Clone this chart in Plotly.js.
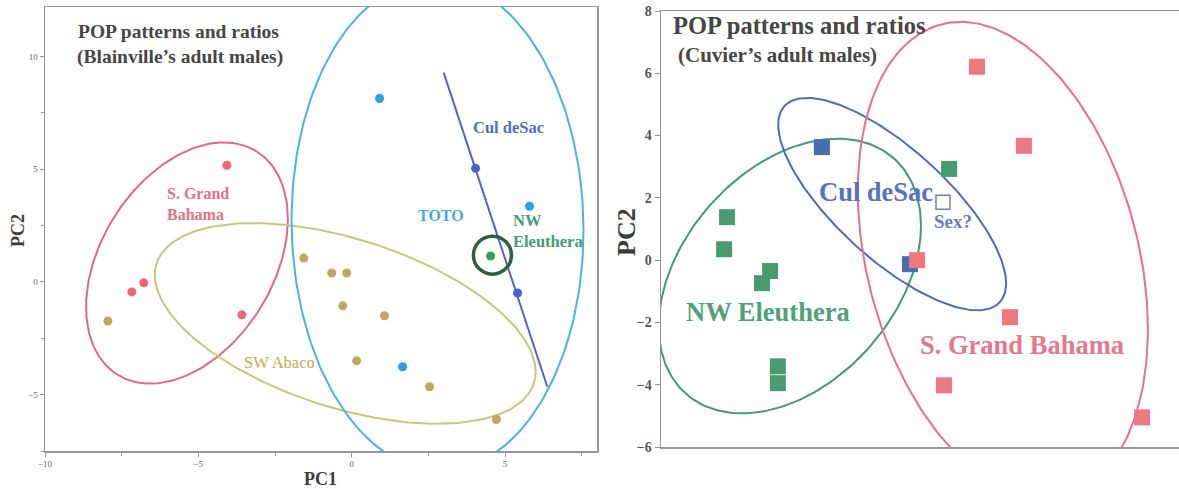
<!DOCTYPE html>
<html>
<head>
<meta charset="utf-8">
<script src="https://cdn.plot.ly/plotly-3.0.1.min.js"></script>
<style>html,body{margin:0;padding:0;background:#fff;}#chart{width:1179px;height:489px;}</style>
</head>
<body>
<div id="chart"></div>
<script>
// ---------- Left panel data (Blainville's adult males) ----------
const bGrandBahamaX = [-4.07, -7.17, -6.78, -3.58];
const bGrandBahamaY = [5.18, -0.44, -0.04, -1.46];
const bAbacoX = [-7.95, -1.56, -0.65, -0.16, -0.29, 1.07, 0.16, 2.54, 4.72];
const bAbacoY = [-1.73, 1.06, 0.40, 0.40, -1.06, -1.50, -3.50, -4.65, -6.10];
const bTotoX = [0.91, 5.80, 1.66];
const bTotoY = [8.14, 3.36, -3.76];
const bCulX = [4.04, 5.41];
const bCulY = [5.04, -0.49];
const bEleutheraX = [4.53];
const bEleutheraY = [1.15];
const bCircleX = [4.59];
const bCircleY = [1.19];
const bCulLineX = [3.0, 6.38];
const bCulLineY = [9.29, -4.65];
// ellipses: [cx, cy, halfWidth, halfHeight, xOffsetOfTop]
const bEllGrandBahama = [-5.37, 0.84, 3.29, 5.35, 1.2];
const bEllAbaco = [-0.21, -1.84, 6.21, 4.45, -3.0];
const bEllToto = [2.80, 2.52, 4.76, 10.9, -0.1];
const bXTicks = [-10, -5, 0, 5];
const bYTicks = [-5, 0, 5, 10];

// ---------- Right panel data (Cuvier's adult males) ----------
const cEleutheraX = [-1.96, -2.05, -0.63, -0.88, -0.39, -0.39, 4.90];
const cEleutheraY = [1.38, 0.35, -0.35, -0.74, -3.41, -3.95, 2.93];
const cCulX = [0.97, 3.69];
const cCulY = [3.63, -0.13];
const cGrandBahamaX = [5.76, 7.21, 6.78, 4.74, 10.86, 3.91];
const cGrandBahamaY = [6.21, 3.67, -1.83, -4.02, -5.05, 0.0];
const cSexX = [4.71];
const cSexY = [1.86];
const cEllEleuthera = [-0.02, -0.51, 4.05, 4.41, 1.48];
const cEllCul = [3.14, 1.80, 3.52, 3.41, -2.63];
const cEllGrandBahama = [6.56, 0.0, 4.48, 7.65, -1.30];
const cYTicks = [-6, -4, -2, 0, 2, 4, 6, 8];

// ellipse outline from centre, half extents and top offset
function ellipse(p) {
  const [cx, cy, w, h, dx] = p;
  const l21 = dx * h / w;
  const l22 = Math.sqrt(Math.max(h * h - l21 * l21, 0));
  const xs = [], ys = [];
  for (let i = 0; i <= 240; i++) {
    const t = 2 * Math.PI * i / 240;
    xs.push(cx + w * Math.cos(t));
    ys.push(cy + l21 * Math.cos(t) + l22 * Math.sin(t));
  }
  return {x: xs, y: ys};
}
function ellTrace(p, color, xa, ya) {
  const e = ellipse(p);
  return {x: e.x, y: e.y, xaxis: xa, yaxis: ya, mode: 'lines', type: 'scatter',
          line: {color: color, width: 2}, hoverinfo: 'skip'};
}
function pts(x, y, color, size, symbol, xa, ya, extra) {
  return Object.assign({x: x, y: y, xaxis: xa, yaxis: ya, mode: 'markers', type: 'scatter',
          marker: {color: color, size: size, symbol: symbol, line: {width: 0}}}, extra || {});
}

const traces = [
  ellTrace(bEllGrandBahama, 'rgb(222,105,135)', 'x', 'y'),
  ellTrace(bEllAbaco, 'rgb(200,198,120)', 'x', 'y'),
  ellTrace(bEllToto, 'rgb(75,178,228)', 'x', 'y'),
  {x: bCulLineX, y: bCulLineY, xaxis: 'x', yaxis: 'y', mode: 'lines', type: 'scatter',
   line: {color: 'rgb(85,100,190)', width: 2}},
  pts(bGrandBahamaX, bGrandBahamaY, 'rgb(238,102,118)', 9, 'circle', 'x', 'y'),
  pts(bAbacoX, bAbacoY, 'rgb(190,168,92)', 9, 'circle', 'x', 'y'),
  pts(bTotoX, bTotoY, 'rgb(40,160,228)', 9, 'circle', 'x', 'y'),
  pts(bCulX, bCulY, 'rgb(70,100,200)', 9, 'circle', 'x', 'y'),
  pts(bEleutheraX, bEleutheraY, 'rgb(50,160,100)', 9, 'circle', 'x', 'y'),
  {x: bCircleX, y: bCircleY, xaxis: 'x', yaxis: 'y', mode: 'markers', type: 'scatter',
   marker: {symbol: 'circle-open', size: 38, color: 'rgb(45,95,65)', line: {width: 3.5, color: 'rgb(45,95,65)'}}},

  ellTrace(cEllEleuthera, 'rgb(70,152,118)', 'x2', 'y2'),
  ellTrace(cEllCul, 'rgb(82,105,185)', 'x2', 'y2'),
  ellTrace(cEllGrandBahama, 'rgb(232,112,140)', 'x2', 'y2'),
  pts(cEleutheraX, cEleutheraY, 'rgb(72,155,112)', 16, 'square', 'x2', 'y2'),
  pts(cCulX, cCulY, 'rgb(70,110,175)', 16, 'square', 'x2', 'y2'),
  pts(cGrandBahamaX, cGrandBahamaY, 'rgb(238,120,130)', 16, 'square', 'x2', 'y2'),
  {x: cSexX, y: cSexY, xaxis: 'x2', yaxis: 'y2', mode: 'markers', type: 'scatter',
   marker: {symbol: 'square-open', size: 14, color: 'rgb(110,130,185)', line: {width: 1.5, color: 'rgb(110,130,185)'}}}
];

const W = 1179, H = 489;
const px = v => v / W;
const py = v => 1 - v / H;
const SERIF = 'Liberation Serif, Times New Roman, DejaVu Serif, serif';
function ann(text, x, y, size, color, opts) {
  return Object.assign({text: text, x: px(x), y: py(y), xref: 'paper', yref: 'paper',
    showarrow: false, xanchor: 'left', yanchor: 'middle', align: 'left',
    font: {family: SERIF, size: size, color: color}}, opts || {});
}

const annotations = [
  ann('<b>POP patterns and ratios</b>', 76, 31, 19.5, 'rgb(70,70,70)'),
  ann('<b>(Blainville\u2019s adult males)</b>', 75, 57, 19.5, 'rgb(70,70,70)'),
  ann('<b>S. Grand<br>Bahama</b>', 165, 204, 16, 'rgb(228,112,128)'),
  ann('SW Abaco', 242, 362, 16.5, 'rgb(185,175,80)'),
  ann('<b>TOTO</b>', 416, 215, 16, 'rgb(70,170,222)'),
  ann('<b>Cul deSac</b>', 471, 128, 16.5, 'rgb(80,110,190)'),
  ann('<b>NW<br>Eleuthera</b>', 511, 231, 16.5, 'rgb(60,160,112)'),
  ann('<b>PC2</b>', 18, 231, 18, 'rgb(60,60,60)', {xanchor: 'center', textangle: -90}),
  ann('<b>PC1</b>', 320, 479, 18, 'rgb(60,60,60)', {xanchor: 'center'}),

  ann('<b>POP patterns and ratios</b>', 671, 26, 24.5, 'rgb(70,70,70)'),
  ann('<b>(Cuvier\u2019s adult males)</b>', 676, 55, 21, 'rgb(70,70,70)'),
  ann('<b>Cul deSac</b>', 817, 192, 26.5, 'rgb(85,115,195)'),
  ann('<b>Sex?</b>', 932, 221, 19, 'rgb(105,125,190)'),
  ann('<b>NW Eleuthera</b>', 684, 312, 26.5, 'rgb(80,160,122)'),
  ann('<b>S. Grand Bahama</b>', 918, 345, 26.5, 'rgb(230,120,140)'),
  ann('<b>PC2</b>', 626, 232, 26, 'rgb(60,60,60)', {xanchor: 'center', textangle: -90})
];

const axisLine = 'rgb(150,150,150)';
const layout = {
  width: W, height: H,
  margin: {l: 0, r: 0, t: 0, b: 0, pad: 0},
  paper_bgcolor: '#fff', plot_bgcolor: '#fff',
  showlegend: false,
  xaxis: {domain: [px(45), px(597)], range: [-10, 8], tickvals: bXTicks, ticks: 'outside', ticklen: 4,
          tickcolor: axisLine, showline: true, mirror: true, linecolor: axisLine, linewidth: 1.5,
          showgrid: false, zeroline: false, tickfont: {family: SERIF, size: 9, color: '#666'},
          minor: {dtick: 2.5, tick0: 0, ticks: 'outside', ticklen: 3, tickcolor: axisLine}},
  yaxis: {domain: [py(451), py(7)], range: [-7.5, 12.2], tickvals: bYTicks, ticks: 'outside', ticklen: 4,
          tickcolor: axisLine, showline: true, mirror: true, linecolor: axisLine, linewidth: 1.5,
          showgrid: false, zeroline: false, tickfont: {family: SERIF, size: 9, color: '#666'},
          minor: {dtick: 2.5, tick0: 0, ticks: 'outside', ticklen: 3, tickcolor: axisLine}},
  xaxis2: {domain: [px(661), 1], range: [-4, 12], anchor: 'y2', showticklabels: false, ticks: '',
           showline: true, mirror: true, linecolor: axisLine, linewidth: 1.5, showgrid: false, zeroline: false},
  yaxis2: {domain: [py(447), py(11)], range: [-6, 8], anchor: 'x2', tickvals: cYTicks, ticks: 'outside', ticklen: 5,
           tickcolor: axisLine, showline: true, linecolor: axisLine, linewidth: 1.5,
           showgrid: false, zeroline: false, tickfont: {family: SERIF, size: 14, color: '#555', weight: 'bold'}},
  annotations: annotations
};

Plotly.newPlot('chart', traces, layout, {staticPlot: true, displayModeBar: false});
</script>
</body>
</html>
